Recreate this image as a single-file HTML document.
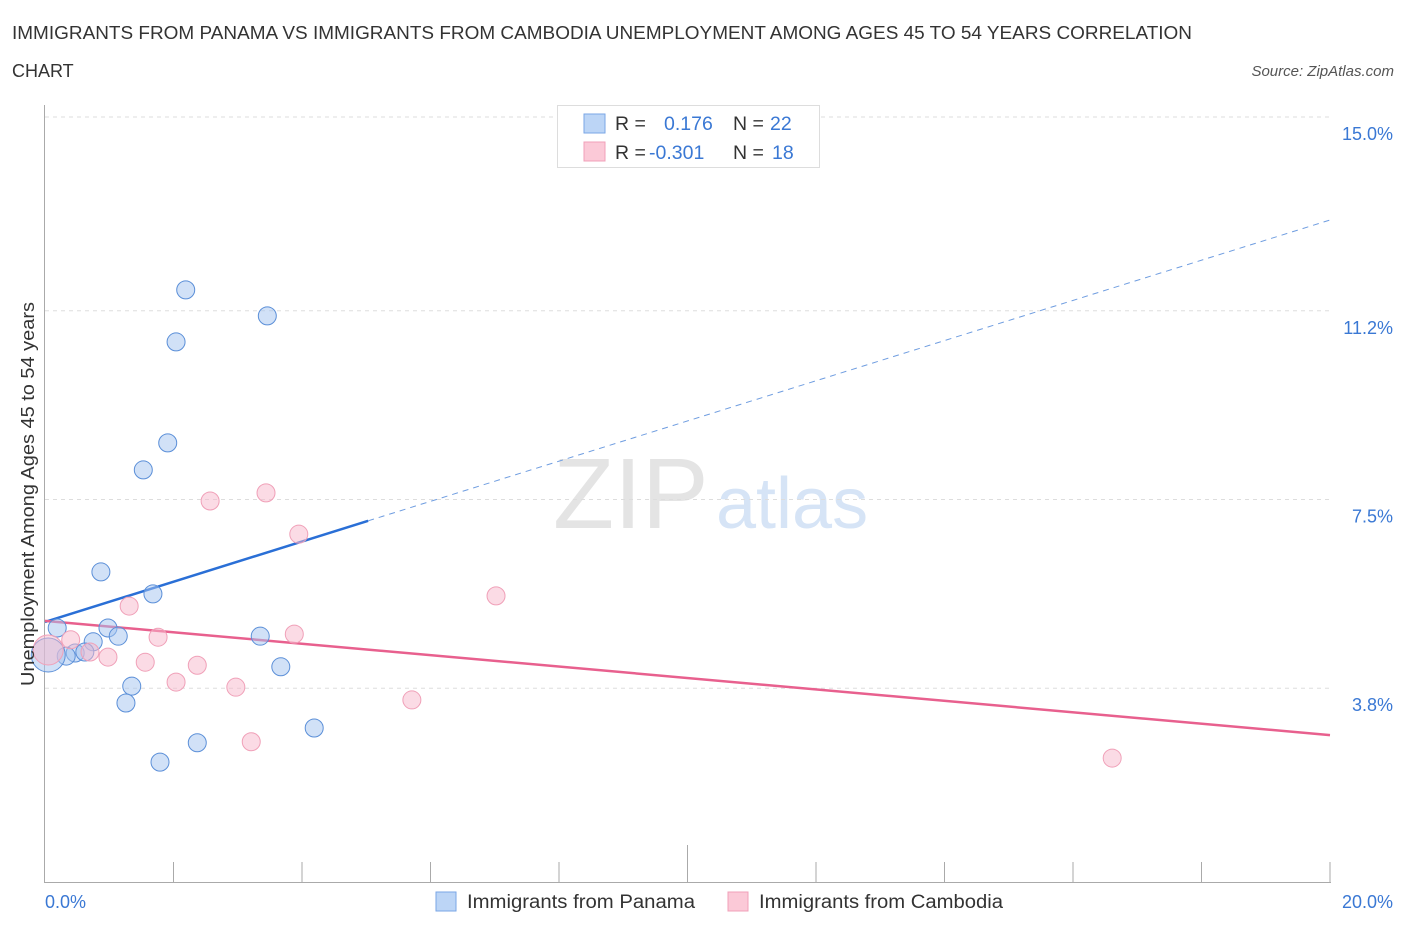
<!DOCTYPE html>
<html><head><meta charset="utf-8"><style>
body{margin:0;background:#fff;font-family:"Liberation Sans",sans-serif;}
svg text{font-family:"Liberation Sans",sans-serif;}
</style></head><body>
<svg width="1406" height="930" xmlns="http://www.w3.org/2000/svg" id="chart">
<text x="12" y="39" font-size="18" fill="#333" textLength="1180" lengthAdjust="spacingAndGlyphs">IMMIGRANTS FROM PANAMA VS IMMIGRANTS FROM CAMBODIA UNEMPLOYMENT AMONG AGES 45 TO 54 YEARS CORRELATION</text>
<text x="12" y="77" font-size="18" fill="#333">CHART</text>
<text x="1394" y="76" font-size="15" fill="#555" font-style="italic" text-anchor="end">Source: ZipAtlas.com</text>
<g>
<text x="553" y="528" font-size="100" fill="#e4e4e4" font-family="Liberation Serif,serif">ZIP</text>
<text x="716" y="528" font-size="72" fill="#d6e4f6">atlas</text>
</g>
<g id="grid"></g>
<g id="axes"></g>
<g id="lines"></g>
<g id="points"></g>
<text x="34" y="494" font-size="18" fill="#333" text-anchor="middle" textLength="384" lengthAdjust="spacingAndGlyphs" transform="rotate(-90 34 494)">Unemployment Among Ages 45 to 54 years</text>
<text x="45" y="908" font-size="18" fill="#3a78d4">0.0%</text>
<text x="1393" y="908" font-size="18" fill="#3a78d4" text-anchor="end">20.0%</text>
<g>
<rect x="557.5" y="105.5" width="262" height="62" fill="#fff" stroke="#ddd"/>
<rect x="584" y="114" width="21" height="19" fill="#bcd5f6" stroke="#7aa6e6"/>
<rect x="584" y="142" width="21" height="19" fill="#fbc9d7" stroke="#f0a0b8"/>
<text x="615" y="130" font-size="19.5" fill="#333">R =</text>
<text x="664" y="130" font-size="19.5" fill="#3a78d4">0.176</text>
<text x="733" y="130" font-size="19.5" fill="#333">N =</text>
<text x="770" y="130" font-size="19.5" fill="#3a78d4">22</text>
<text x="615" y="159" font-size="19.5" fill="#333">R =</text>
<text x="649" y="159" font-size="19.5" fill="#3a78d4">-0.301</text>
<text x="733" y="159" font-size="19.5" fill="#333">N =</text>
<text x="772" y="159" font-size="19.5" fill="#3a78d4">18</text>
</g>
<g>
<rect x="436" y="892" width="20" height="19" fill="#bcd5f6" stroke="#7aa6e6"/>
<text x="467" y="908" font-size="19" fill="#333" textLength="228" lengthAdjust="spacingAndGlyphs">Immigrants from Panama</text>
<rect x="728" y="892" width="20" height="19" fill="#fbc9d7" stroke="#f0a0b8"/>
<text x="759" y="908" font-size="19" fill="#333" textLength="244" lengthAdjust="spacingAndGlyphs">Immigrants from Cambodia</text>
</g>
</svg>
<script>
const yTicks=[3.8,7.5,11.2,15.0];
const yTickLabels=["3.8%","7.5%","11.2%","15.0%"];
const xTicks=[2,4,6,8,10,12,14,16,18,20];
const panamaX=[2.19,3.46,2.04,1.91,1.53,0.87,1.68,0.19,0.98,1.14,0.75,3.35,0.47,0.33,0.62,3.67,1.35,1.26,4.19,2.37,1.79,0.05];
const panamaY=[11.61,11.10,10.59,8.61,8.08,6.08,5.65,4.98,4.98,4.82,4.71,4.82,4.49,4.43,4.51,4.22,3.84,3.51,3.02,2.73,2.35,4.45];
const cambodiaX=[3.44,2.57,3.95,7.02,1.31,1.76,3.88,0.40,0.98,1.56,2.37,2.04,2.97,5.71,3.21,16.61,0.70,0.05];
const cambodiaY=[7.63,7.47,6.82,5.61,5.41,4.80,4.86,4.75,4.41,4.31,4.25,3.92,3.82,3.57,2.75,2.43,4.51,4.55];
const panamaTrend=[5.10,12.98];
const panamaSolidEnd=5.03;
const cambodiaTrend=[5.12,2.88];
const NS="http://www.w3.org/2000/svg";
const xs=v=>45+v*64.25, ys=v=>882-v*51.0;
function mk(tag,attrs,parent){const e=document.createElementNS(NS,tag);for(const k in attrs)e.setAttribute(k,attrs[k]);parent.appendChild(e);return e;}
const grid=document.getElementById('grid'),axes=document.getElementById('axes'),lines=document.getElementById('lines'),pts=document.getElementById('points');
yTicks.forEach((t,i)=>{
 const l=mk('line',{x1:45,x2:1330,y1:ys(t),y2:ys(t),stroke:'#ddd','stroke-dasharray':'4 4'},grid);
 
 
 const tx=mk('text',{x:1393,y:ys(t)+23,'font-size':18,fill:'#3a78d4','text-anchor':'end'},grid);
 tx.textContent=yTickLabels[i];
 
 
});
const ya=mk('line',{x1:44.5,x2:44.5,y1:105,y2:882,stroke:'#aaa'},axes);


const xa=mk('line',{x1:44,x2:1331,y1:882.5,y2:882.5,stroke:'#aaa'},axes);


xTicks.forEach(t=>{
 const l=mk('line',{x1:xs(t),x2:xs(t),y1:t==10?845:862,y2:882,stroke:'#aaa'},axes);
 
 
});
let l1=mk('line',{x1:xs(0),y1:ys(panamaTrend[0]),x2:xs(panamaSolidEnd),y2:ys(panamaTrend[0]+(panamaTrend[1]-panamaTrend[0])*panamaSolidEnd/20),stroke:'#2a6fd6','stroke-width':2.5},lines);


let l2=mk('line',{x1:xs(panamaSolidEnd),y1:ys(panamaTrend[0]+(panamaTrend[1]-panamaTrend[0])*panamaSolidEnd/20),x2:xs(20),y2:ys(panamaTrend[1]),stroke:'#6f9de0','stroke-width':1,'stroke-dasharray':'6 5'},lines);


let l3=mk('line',{x1:xs(0),y1:ys(cambodiaTrend[0]),x2:xs(20),y2:ys(cambodiaTrend[1]),stroke:'#e8608e','stroke-width':2.5},lines);


panamaX.forEach((x,i)=>{
 const big=i==panamaX.length-1;
 const c=mk('circle',{cx:xs(x),cy:ys(panamaY[i]),r:big?17:9,fill:'rgba(164,196,240,0.5)',stroke:'#5b8fd8','stroke-width':1},pts);
 
 
});
cambodiaX.forEach((x,i)=>{
 const big=i==cambodiaX.length-1;
 const c=mk('circle',{cx:xs(x),cy:ys(cambodiaY[i]),r:big?15:9,fill:'rgba(248,184,204,0.5)',stroke:'#f0a0b8','stroke-width':1},pts);
 
 
});
</script>
</body></html>
